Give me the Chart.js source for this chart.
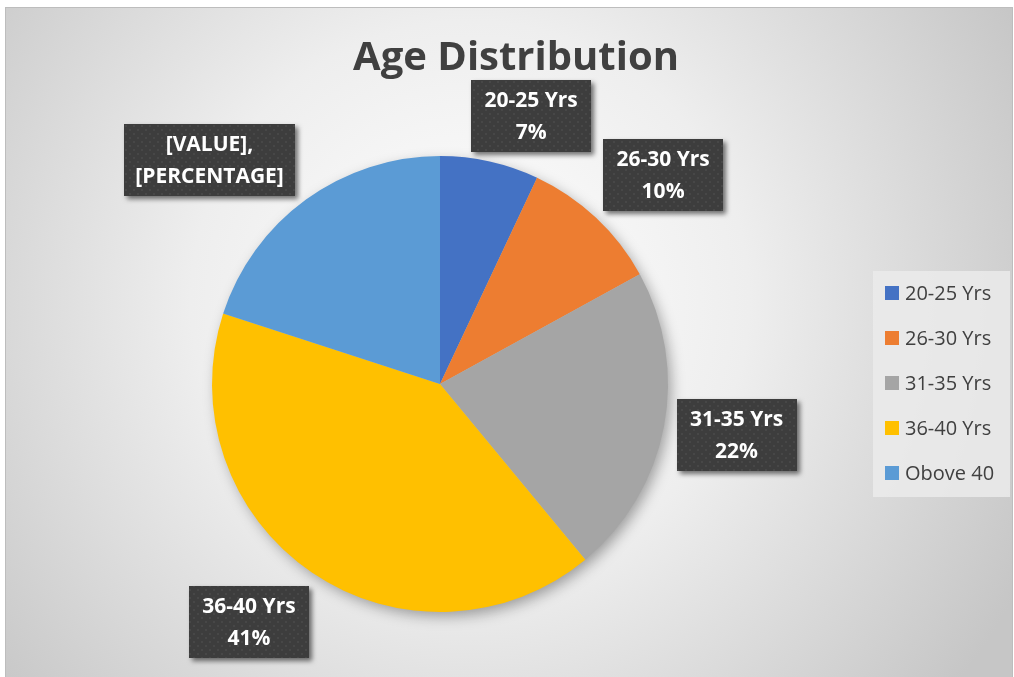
<!DOCTYPE html>
<html>
<head>
<meta charset="utf-8">
<script src="https://cdn.jsdelivr.net/npm/chart.js@4/dist/chart.umd.min.js"></script>
<style>
  html, body { margin: 0; padding: 0; background: #ffffff; }
  #wrap { width: 1014px; height: 677px; }
</style>
</head>
<body>
<div id="wrap"><canvas id="ageChart" width="1014" height="677"></canvas></div>
<script>
// chart data
const titleText = "Age Distribution";
const categories = ["20-25 Yrs", "26-30 Yrs", "31-35 Yrs", "36-40 Yrs", "Obove 40"];
const shares = [7, 10, 22, 41, 20];
const sliceColors = ["#4472C4", "#ED7D31", "#A5A5A5", "#FFC000", "#5B9BD5"];
// the last label was left as an unfilled template in the original
const labelLines = [
  ["20-25 Yrs", "7%"],
  ["26-30 Yrs", "10%"],
  ["31-35 Yrs", "22%"],
  ["36-40 Yrs", "41%"],
  ["[VALUE],", "[PERCENTAGE]"],
];
// label placement relative to each slice: [angle nudge in degrees, distance as radius factor]
const labelPlace = [[6.2, 1.24], [3.7, 1.34], [-1.0, 1.32], [4.5, 1.34], [-9.8, 1.41]];

const FONT = "'Open Sans', 'Noto Sans', sans-serif";

// dotted dark texture for the label boxes
function makePattern(ctx) {
  const p = document.createElement("canvas");
  p.width = 8; p.height = 8;
  const pc = p.getContext("2d");
  pc.fillStyle = "#3d3d3d";
  pc.fillRect(0, 0, 8, 8);
  pc.fillStyle = "#474747";
  pc.fillRect(1, 1, 2, 2);
  pc.fillRect(5, 5, 2, 2);
  return ctx.createPattern(p, "repeat");
}

const backgroundPlugin = {
  id: "bg",
  beforeDraw(chart) {
    const ctx = chart.ctx;
    ctx.save();
    ctx.fillStyle = "#ffffff";
    ctx.fillRect(0, 0, chart.width, chart.height);
    const g = ctx.createRadialGradient(470, 300, 0, 470, 300, 620);
    g.addColorStop(0, "#ffffff");
    g.addColorStop(0.45, "#eeeeee");
    g.addColorStop(1, "#c6c6c6");
    ctx.fillStyle = g;
    ctx.fillRect(6, 7, 1006, 670);
    ctx.strokeStyle = "#bdbdbd";
    ctx.lineWidth = 1;
    ctx.strokeRect(5.5, 7.5, 1007, 672);
    ctx.restore();
  },
  beforeDatasetsDraw(chart) {
    // soft shadow under the pie
    const arc = chart.getDatasetMeta(0).data[0];
    const ctx = chart.ctx;
    ctx.save();
    ctx.shadowColor = "rgba(0,0,0,0.35)";
    ctx.shadowBlur = 14;
    ctx.shadowOffsetX = 4;
    ctx.shadowOffsetY = 5;
    ctx.fillStyle = "#bbbbbb";
    ctx.beginPath();
    ctx.arc(arc.x, arc.y, arc.outerRadius - 1, 0, Math.PI * 2);
    ctx.fill();
    ctx.restore();
  },
};

const labelsPlugin = {
  id: "boxLabels",
  afterDatasetsDraw(chart) {
    const ctx = chart.ctx;
    const meta = chart.getDatasetMeta(0);
    const pattern = makePattern(ctx);
    ctx.save();
    ctx.font = "bold 21px " + FONT;
    meta.data.forEach((arc, i) => {
      const mid = (arc.startAngle + arc.endAngle) / 2 + labelPlace[i][0] * Math.PI / 180;
      const dist = arc.outerRadius * labelPlace[i][1];
      const cx = arc.x + Math.cos(mid) * dist;
      const cy = arc.y + Math.sin(mid) * dist;
      const lines = labelLines[i];
      const tw = Math.max(...lines.map(t => ctx.measureText(t).width));
      const w = Math.max(120, tw + 22);
      const h = 72;
      ctx.save();
      ctx.shadowColor = "rgba(0,0,0,0.55)";
      ctx.shadowBlur = 5;
      ctx.shadowOffsetX = 3;
      ctx.shadowOffsetY = 3;
      ctx.fillStyle = pattern;
      ctx.fillRect(Math.round(cx - w / 2), Math.round(cy - h / 2), Math.round(w), h);
      ctx.restore();
      ctx.fillStyle = "#ffffff";
      ctx.textAlign = "center";
      ctx.textBaseline = "middle";
      ctx.fillText(lines[0], cx, cy - 15);
      ctx.fillText(lines[1], cx, cy + 17);
    });
    ctx.restore();
  },
  afterDraw(chart) {
    const ctx = chart.ctx;
    ctx.save();
    // title
    ctx.fillStyle = "#404040";
    ctx.font = "bold 40px " + FONT;
    ctx.textAlign = "center";
    ctx.textBaseline = "middle";
    ctx.fillText(titleText, 516, 59);
    // legend
    ctx.fillStyle = "rgba(235,235,235,0.85)";
    ctx.fillRect(873, 271, 137, 226);
    ctx.font = "20px " + FONT;
    ctx.textAlign = "left";
    categories.forEach((c, i) => {
      const y = 293 + i * 45;
      ctx.fillStyle = sliceColors[i];
      ctx.fillRect(885, y - 7, 14, 14);
      ctx.fillStyle = "#404040";
      ctx.fillText(c, 905, y + 1);
    });
    ctx.restore();
  },
};

new Chart(document.getElementById("ageChart"), {
  type: "pie",
  data: {
    labels: categories,
    datasets: [
      {
        data: shares,
        backgroundColor: sliceColors,
        borderWidth: 0,
        hoverOffset: 0,
      },
    ],
  },
  options: {
    responsive: false,
    animation: false,
    layout: { padding: { left: 212, right: 346, top: 156, bottom: 65 } },
    plugins: {
      legend: { display: false },
      title: { display: false },
      tooltip: { enabled: false },
    },
  },
  plugins: [backgroundPlugin, labelsPlugin],
});
</script>
</body>
</html>
